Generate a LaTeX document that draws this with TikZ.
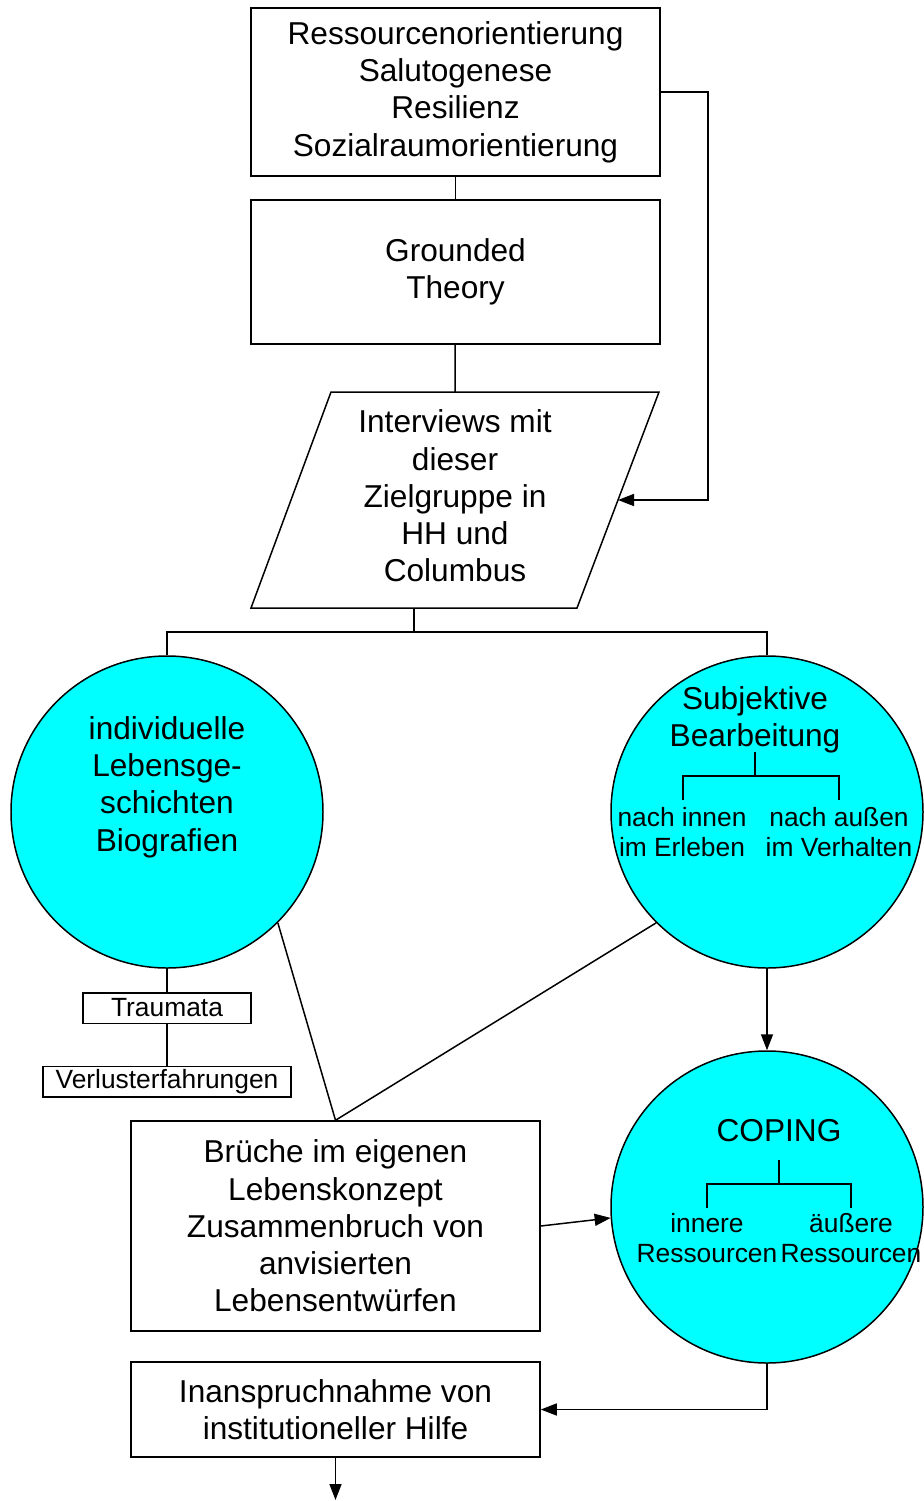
\documentclass[tikz,border=0pt]{standalone}
\usepackage{fontspec}
\setmainfont{Liberation Sans}
\usetikzlibrary{arrows.meta, positioning, calc}
\definecolor{aqua}{RGB}{0,255,255}

\begin{document}
\begin{tikzpicture}[x=0.2mm, y=-0.2mm, line width=0.85pt,
  box/.style={draw, minimum width=81.8mm, inner sep=0pt, align=center, font=\fontsize{18}{21.2}\selectfont},
  smallbox/.style={draw, inner sep=0pt, minimum height=6.1mm, font=\fontsize{15}{17.5}\selectfont},
  blob/.style={circle, draw, fill=aqua, minimum size=62.4mm, inner sep=0pt},
  big/.style={align=center, font=\fontsize{18}{21.2}\selectfont},
  small/.style={align=center, font=\fontsize{15}{17.5}\selectfont},
  arr/.style={-{Triangle[length=3.2mm, width=2.4mm]}}]
\useasboundingbox (0,0) rectangle (923,1501);

\node[box, minimum height=33.6mm] (r1) at (455.5,92) {Ressourcenorientierung\\Salutogenese\\Resilienz\\Sozialraumorientierung};
\node[box, minimum height=28.8mm] (gt) at (455.5,272) {Grounded\\Theory};

\draw (331,392) -- (659,392) -- (577,608) -- (251,608) -- cycle;
\coordinate (ptop) at (455,392);
\coordinate (pright) at (618,500);
\coordinate (pbot) at (414,608);
\coordinate (fork) at (414,632);
\node[big] (intv) at (455,496) {Interviews mit\\dieser\\Zielgruppe in\\HH und\\Columbus};

\node[blob] (lcirc) at (167,812) {};
\node[big] (lbl) at (167,787) {individuelle\\Lebensge-\\schichten\\Biografien};
\node[blob] (rcirc) at (767,812) {};
\node[big] (subj) at (755,720) {Subjektive\\Bearbeitung};
\node[small] (innen) at (682,832) {nach innen\\im Erleben};
\node[small] (aussen) at (839,832) {nach außen\\im Verhalten};
\draw (755,752) -- (755,776) (683,800) |- (839,776) -- (839,800);

\node[smallbox, minimum width=33.6mm] (trauma) at (167,1008) {Traumata};
\node[smallbox, minimum width=49.6mm] (verlust) at (167,1081.5) {Verlusterfahrungen};

\node[box, minimum height=42mm] (brueche) at (335.5,1226) {Brüche im eigenen\\Lebenskonzept\\Zusammenbruch von\\anvisierten\\Lebensentwürfen};

\node[blob] (cop) at (767,1207) {};
\node[big] (coptxt) at (779,1131) {COPING};
\node[small] (inner) at (707,1238) {innere\\Ressourcen};
\node[small] (outer) at (851,1238) {äußere\\Ressourcen};
\draw (779,1160) -- (779,1184) (707,1208) |- (851,1184) -- (851,1208);

\node[box, minimum height=19mm] (hilfe) at (335.5,1409.5) {Inanspruchnahme von\\institutioneller Hilfe};
\coordinate (out) at (335.5,1500);

\draw (r1) -- (gt);
\draw (gt) -- (ptop);
\draw[arr] (r1.east) -- ++(47,0) |- (pright);
\draw (pbot) -- (fork) -| (lcirc.north);
\draw (fork) -| (rcirc.north);
\draw (lcirc) -- (trauma);
\draw (trauma) -- (verlust);
\draw (lcirc.-45) -- (brueche.north);
\draw (rcirc.-135) -- (brueche.north);
\draw[arr] (rcirc) -- (cop);
\draw[arr] (brueche.east) -- (cop.184);
\draw[arr] (cop.south) |- (hilfe.east);
\draw[arr] (hilfe) -- (out);
\end{tikzpicture}
\end{document}
